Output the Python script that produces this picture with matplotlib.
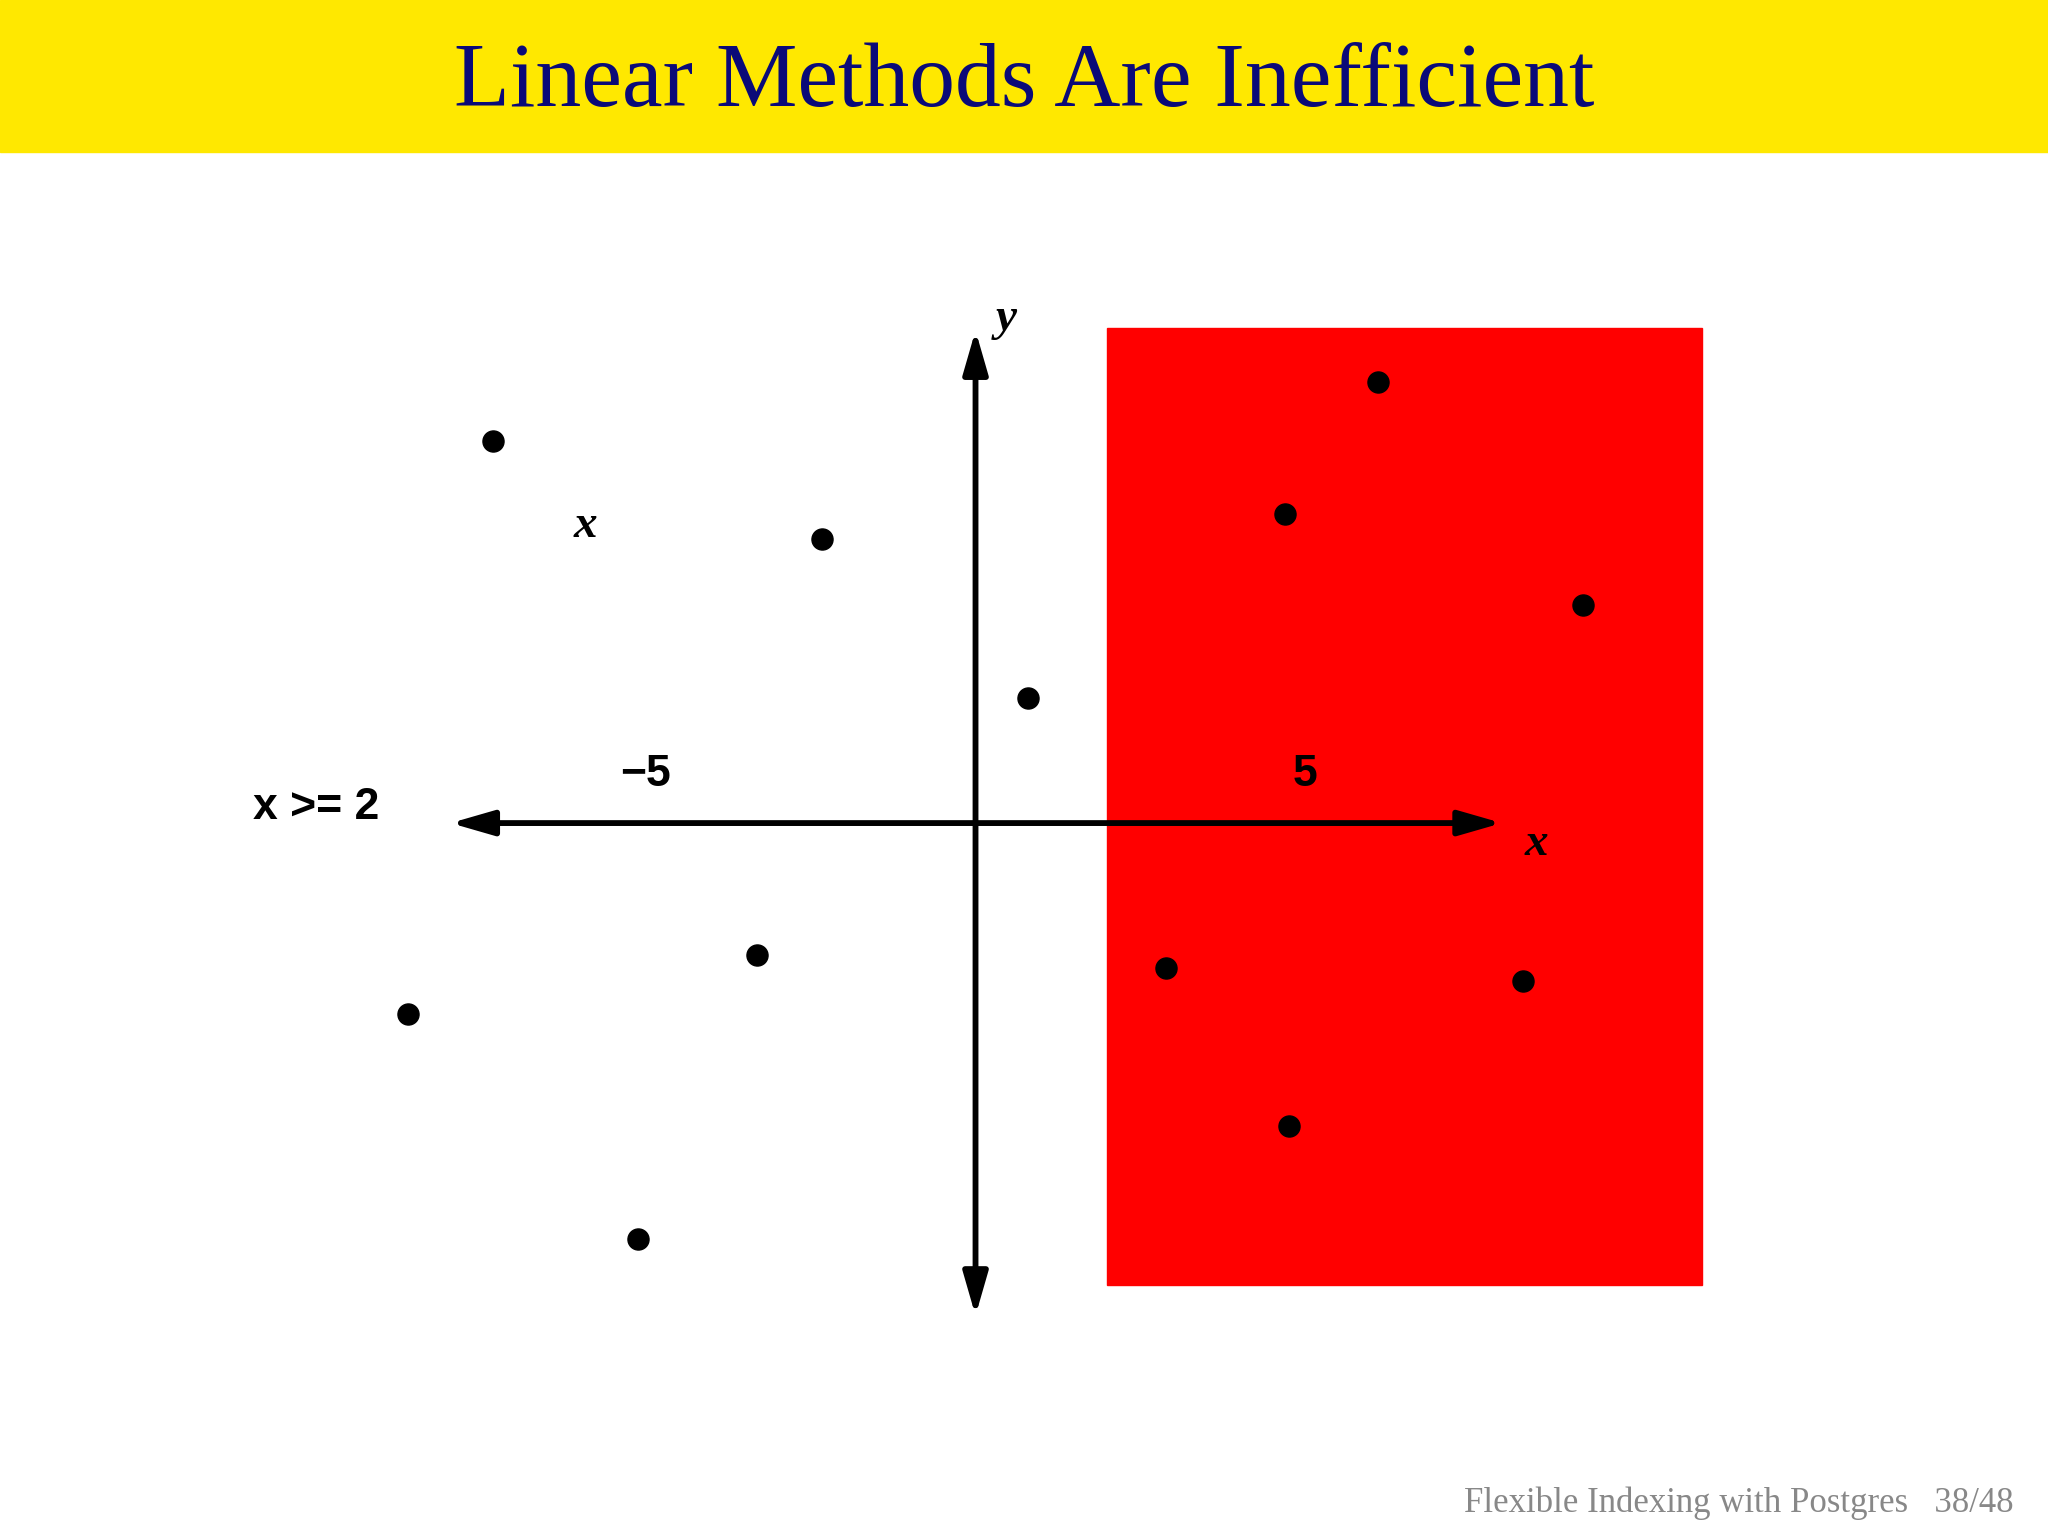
import matplotlib
matplotlib.use("Agg")
import matplotlib.pyplot as plt
from matplotlib.patches import Rectangle

title = "Linear Methods Are Inefficient"
footer = "Flexible Indexing with Postgres   38/48"
pts_x = [-7.31, -2.32, 0.79, 6.10, 4.69, 9.21, -3.31, -8.61, -5.11, 2.89, 8.30, 4.75]
pts_y = [5.80, 4.30, 1.90, 6.69, 4.69, 3.31, -2.00, -2.89, -6.30, -2.20, -2.40, -4.59]
region = (2.0, 11.01, -7.01, 7.50)  # x0, x1, y0, y1  (x >= 2)
xaxis = (-7.96, 7.98)
yaxis = (-7.47, 7.47)
ticks = [(-5, "\u22125"), (5, "5")]

fig = plt.figure(figsize=(20.48, 15.36), dpi=100)
ax = fig.add_axes([0, 0, 1, 1])
ax.set_xlim(-14.79, 16.26)
ax.set_ylim(-10.81, 12.48)
ax.axis("off")

# header band
fig.patches.append(Rectangle((0, 1 - 116/1176), 1, 116/1176, transform=fig.transFigure,
                             color="#FFE800", zorder=0))
fig.text(0.5, 1 - 64/1176, title, ha="center", va="center", color="#0A0A78",
         fontsize=66, family="Liberation Serif")
fig.text(0.983, 1 - 1151/1176, footer, ha="right", va="center", color="#888888",
         fontsize=25, family="Liberation Serif")

x0, x1, y0, y1 = region
ax.add_patch(Rectangle((x0, y0), x1 - x0, y1 - y0, color="red", zorder=1))

ap = dict(arrowstyle="-|>,head_length=2.6,head_width=0.75", color="black", lw=4.2,
          shrinkA=0, shrinkB=0)
ax.annotate("", xy=(xaxis[1], 0), xytext=(0, 0), arrowprops=ap, zorder=3)
ax.annotate("", xy=(xaxis[0], 0), xytext=(0, 0), arrowprops=ap, zorder=3)
ax.annotate("", xy=(0, yaxis[1]), xytext=(0, 0), arrowprops=ap, zorder=3)
ax.annotate("", xy=(0, yaxis[0]), xytext=(0, 0), arrowprops=ap, zorder=3)

ax.scatter(pts_x, pts_y, s=230, color="black", zorder=4)

for v, lab in ticks:
    ax.text(v, 0.73, lab, ha="center", va="center", fontsize=32, fontweight="bold",
            family="Liberation Sans")
ax.text(-10.0, 0.24, "x >= 2", ha="center", va="center", fontsize=32, fontweight="bold",
        family="Liberation Sans")
ax.text(8.5, -0.32, "x", ha="center", va="center", fontsize=34, style="italic",
        fontweight="bold", family="Liberation Serif")
ax.text(-5.92, 4.5, "x", ha="center", va="center", fontsize=34, style="italic",
        fontweight="bold", family="Liberation Serif")
ax.text(0.47, 7.64, "y", ha="center", va="center", fontsize=34, style="italic",
        fontweight="bold", family="Liberation Serif")

fig.savefig("out.png", dpi=100)
